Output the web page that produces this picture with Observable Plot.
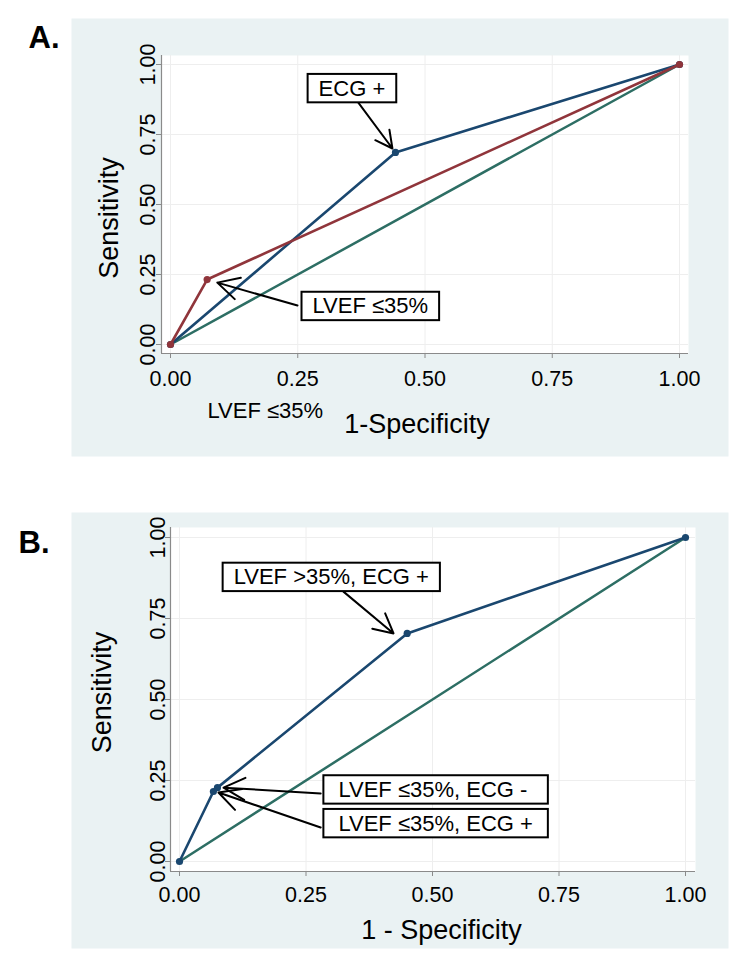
<!DOCTYPE html>
<html>
<head>
<meta charset="utf-8">
<script src="https://cdn.jsdelivr.net/npm/d3@7"></script>
<script src="https://cdn.jsdelivr.net/npm/@observablehq/plot@0.6"></script>
<style>
  html, body { margin: 0; padding: 0; background: #ffffff; }
  #chart svg { display: block; }
</style>
</head>
<body>
<div id="chart"></div>
<script>
// ---------- data ----------
const tickValues = [0, 0.25, 0.5, 0.75, 1];

// Panel A
const ecgA_fpr  = [0, 0.442, 1];
const ecgA_sens = [0, 0.686, 1];
const lvefA_fpr  = [0, 0.072, 1];
const lvefA_sens = [0, 0.232, 1];
const refLine = [0, 1];

const labelsA_text = ["ECG +", "LVEF ≤35%"];
const labelsA_x = [0.291, 0.279];
const labelsA_y = [0.914, 0.136];
const arrowsA_x1 = [0.369, 0.2495];
const arrowsA_y1 = [0.864, 0.139];
const arrowsA_x2 = [0.436, 0.092];
const arrowsA_y2 = [0.700, 0.221];

// Panel B
const combB_fpr  = [0, 0.067, 0.075, 0.45, 1];
const combB_sens = [0, 0.216, 0.228, 0.704, 1];

const labelsB_text = ["LVEF >35%, ECG +", "LVEF ≤35%, ECG -", "LVEF ≤35%, ECG +"];
const labelsB_x = [0.107, 0.314, 0.314];
const labelsB_y = [0.877, 0.221, 0.117];
const arrowsB_x1 = [0.324, 0.279, 0.279];
const arrowsB_y1 = [0.833, 0.210, 0.105];
const arrowsB_x2 = [0.423, 0.087, 0.077];
const arrowsB_y2 = [0.704, 0.228, 0.213];

// ---------- styling ----------
const FONT = "'Liberation Sans', Arial, Helvetica, sans-serif";
const BLUE = "#1a476f", RED = "#90353b", GREEN = "#2d6e64";
const BG = "#eaf2f3", AXIS = "#8a8a8a", GRID = "#eeeeee";
const fmt = d3.format(".2f");

const pts = (xs, ys) => xs.map((x, i) => ({x, y: ys[i]}));
const lbls = (t, xs, ys) => t.map((s, i) => ({text: s, x: xs[i], y: ys[i]}));
const arrs = (x1, y1, x2, y2) => x1.map((v, i) => ({x1: v, y1: y1[i], x2: x2[i], y2: y2[i]}));

function panel(cfg) {
  const marks = [
    Plot.frame({fill: BG, insetLeft: cfg.bg[0], insetTop: cfg.bg[1], insetRight: cfg.bg[2], insetBottom: cfg.bg[3]}),
    Plot.frame({fill: "white"}),
    Plot.gridX(tickValues, {stroke: GRID, strokeOpacity: 1}),
    Plot.gridY(tickValues, {stroke: GRID, strokeOpacity: 1}),
    Plot.ruleX([cfg.xDomain[0]], {stroke: AXIS, strokeWidth: 1.2}),
    Plot.ruleY([cfg.yDomain[0]], {stroke: AXIS, strokeWidth: 1.2}),
    Plot.axisX({ticks: tickValues, tickFormat: fmt, tickSize: 5, tickPadding: cfg.xPad, stroke: AXIS, fill: "black", fontSize: 21.5, label: null}),
    Plot.axisY({ticks: tickValues, tickSize: 5, stroke: AXIS, fill: "none", label: null}),
    Plot.text(tickValues, {y: d => d, text: d => fmt(d), frameAnchor: "left", rotate: -90, textAnchor: "middle", lineAnchor: "bottom", dx: cfg.yLabDx, fontSize: 21.5, fill: "black"}),
    Plot.text([cfg.yTitle], {text: d => d, frameAnchor: "left", rotate: -90, textAnchor: "middle", lineAnchor: "bottom", dx: cfg.yTitlePos[0], dy: cfg.yTitlePos[1], fontSize: 27, fill: "black"}),
    Plot.text([cfg.xTitle], {text: d => d, frameAnchor: "bottom", textAnchor: "middle", lineAnchor: "bottom", dx: cfg.xTitlePos[0], dy: cfg.xTitlePos[1], fontSize: 27, fill: "black"}),
    Plot.text([cfg.letter], {text: d => d, frameAnchor: "top-left", textAnchor: "start", lineAnchor: "bottom", dx: cfg.letterPos[0], dy: cfg.letterPos[1], fontSize: 31, fontWeight: "bold", fill: "black"}),
    ...cfg.extra,
    Plot.line(pts(refLine, refLine), {x: "x", y: "y", stroke: GREEN, strokeWidth: 2.5}),
    ...cfg.series.flatMap(s => [
      Plot.line(s.data, {x: "x", y: "y", stroke: s.color, strokeWidth: 2.6}),
      Plot.dot(s.data, {x: "x", y: "y", fill: s.color, r: 3.6})
    ]),
    Plot.arrow(cfg.arrows, {x1: "x1", y1: "y1", x2: "x2", y2: "y2", stroke: "black", strokeWidth: 2, headLength: 18, headAngle: 55}),
    ...cfg.labels.map(l => Plot.text(l.data, {x: "x", y: "y", text: "text", textAnchor: "start", lineAnchor: "middle", fontSize: 22, fill: "black", ariaDescription: l.equal ? "boxed-equal" : "boxed"}))
  ];
  return Plot.plot({
    width: 750,
    height: cfg.height,
    marginLeft: cfg.margins[0], marginTop: cfg.margins[1], marginRight: cfg.margins[2], marginBottom: cfg.margins[3],
    x: {domain: cfg.xDomain, label: null},
    y: {domain: cfg.yDomain, label: null},
    style: {fontFamily: FONT, fontSize: "21.5px", background: "white", color: "black", overflow: "visible"},
    marks
  });
}

const panelA = panel({
  height: 470,
  margins: [161, 55, 62, 117],
  bg: [-90, -37, -40, -103],
  xDomain: [-9 / 509, 1 + 9 / 509],
  yDomain: [-9 / 280, 1 + 9 / 280],
  xPad: 12,
  yLabDx: -7,
  yTitle: "Sensitivity", yTitlePos: [-44, 13.5],
  xTitle: "1-Specificity", xTitlePos: [-8, 79],
  letter: "A.", letterPos: [-133, -8],
  extra: [
    Plot.text(["LVEF ≤35%"], {text: d => d, frameAnchor: "bottom-left", textAnchor: "start", lineAnchor: "bottom", dx: 46, dy: 64, fontSize: 22, fill: "black"})
  ],
  series: [
    {data: pts(ecgA_fpr, ecgA_sens), color: BLUE},
    {data: pts(lvefA_fpr, lvefA_sens), color: RED}
  ],
  arrows: arrs(arrowsA_x1, arrowsA_y1, arrowsA_x2, arrowsA_y2),
  labels: [{data: lbls(labelsA_text, labelsA_x, labelsA_y), equal: false}]
});

const labB = lbls(labelsB_text, labelsB_x, labelsB_y);
const panelB = panel({
  height: 492,
  margins: [170, 57, 55, 91],
  bg: [-99, -15, -33, -77],
  xDomain: [-9 / 506, 1 + 10 / 506],
  yDomain: [-10 / 324, 1 + 10 / 324],
  xPad: 10,
  yLabDx: -6,
  yTitle: "Sensitivity", yTitlePos: [-60, -7],
  xTitle: "1 - Specificity", xTitlePos: [8.5, 67],
  letter: "B.", letterPos: [-152, 25],
  extra: [],
  series: [
    {data: pts(combB_fpr, combB_sens), color: BLUE}
  ],
  arrows: arrs(arrowsB_x1, arrowsB_y1, arrowsB_x2, arrowsB_y2),
  labels: [
    {data: labB.slice(0, 1), equal: false},
    {data: labB.slice(1), equal: true}
  ]
});

const chart = document.getElementById("chart");
chart.append(panelA, panelB);

function addBoxes(svg) {
  const groups = [...svg.querySelectorAll("g")].filter(g => (g.getAttribute("aria-description") || "").startsWith("boxed"));
  for (const g of groups) {
    const equal = g.getAttribute("aria-description") === "boxed-equal";
    const texts = [...g.querySelectorAll("text")];
    const boxes = texts.map(t => t.getBBox());
    const maxW = Math.max(...boxes.map(b => b.width));
    const padX = equal ? 15 : 11, padY = 1.7;
    texts.forEach((t, i) => {
      const b = boxes[i];
      const w = equal ? maxW : b.width;
      const r = document.createElementNS("http://www.w3.org/2000/svg", "rect");
      const tr = t.getAttribute("transform");
      if (tr) r.setAttribute("transform", tr);
      r.setAttribute("x", b.x - padX);
      r.setAttribute("y", b.y - padY);
      r.setAttribute("width", w + 2 * padX);
      r.setAttribute("height", b.height + 2 * padY);
      r.setAttribute("fill", "white");
      r.setAttribute("stroke", "black");
      r.setAttribute("stroke-width", 2);
      g.insertBefore(r, t);
    });
  }
}
addBoxes(panelA);
addBoxes(panelB);
</script>
</body>
</html>
